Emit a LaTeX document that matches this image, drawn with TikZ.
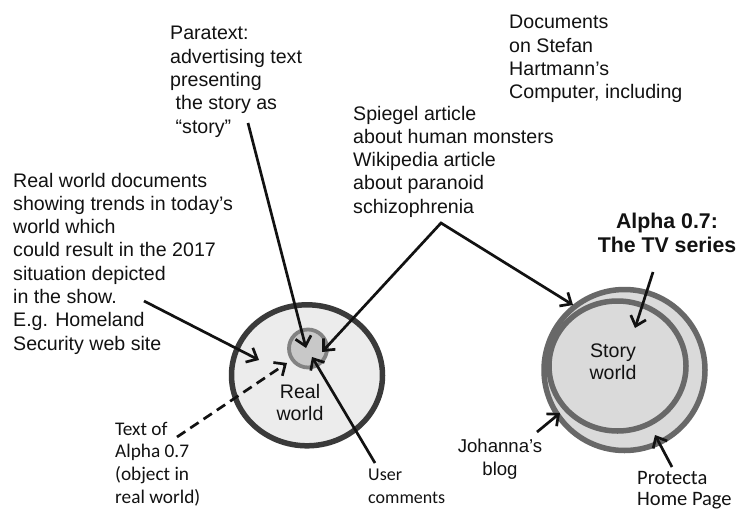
\documentclass[tikz,border=0pt]{standalone}
\usepackage{fontspec}
\setmainfont{Liberation Sans}
\newfontfamily\calfont{Carlito}
\usetikzlibrary{arrows.meta,shapes.geometric}
\definecolor{txtc}{RGB}{18,18,18}
\definecolor{rwfill}{RGB}{236,236,236}
\definecolor{rwline}{RGB}{58,58,58}
\definecolor{smfill}{RGB}{200,200,200}
\definecolor{smline}{RGB}{130,130,130}
\definecolor{swfill}{RGB}{218,218,218}
\definecolor{swline}{RGB}{104,104,104}
\newcommand\mlL[1]{\begin{tabular}[t]{@{}l@{}}#1\end{tabular}}
\newcommand\mlC[1]{\begin{tabular}[t]{@{}c@{}}#1\end{tabular}}
\newcommand\fsA{\fontsize{19.6}{23.3}\selectfont}
\begin{document}
\begin{tikzpicture}[x=1pt,y=-1pt,
  lbl/.style={anchor=base west,inner sep=0,text=txtc},
  clbl/.style={anchor=base,inner sep=0,text=txtc},
  arr/.style={draw=txtc,line width=2.7pt,-{Straight Barb[length=9pt,width=16pt]}},
  darr/.style={arr,dash pattern=on 10pt off 6pt},
  darr2/.style={draw=txtc,line width=2.7pt,{Straight Barb[length=9pt,width=16pt]}-{Straight Barb[length=9pt,width=16pt]}},
  blob/.style={ellipse,inner sep=0,outer sep=0}]
\useasboundingbox (0,0) rectangle (741,511);
\fill[white] (0,0) rectangle (741,511);

% circles
\node[blob,draw=rwline,fill=rwfill,line width=5.5pt,minimum width=151pt,minimum height=141pt] (rw) at (307,375.3) {};
\node[blob,draw=smline,fill=smfill,line width=3.8pt,minimum width=38pt,minimum height=38pt] (sm) at (308,348.5) {};
\node[blob,draw=swline,fill=swfill,line width=5.5pt,minimum width=161pt,minimum height=161pt] (swo) at (624.5,370) {};
\node[blob,draw=swline,fill=swfill,line width=5.5pt,minimum width=137pt,minimum height=130pt] (swi) at (617.5,366) {};

% texts
\node[lbl,font=\fsA] (para) at (170,40) {\mlL{Paratext:\\advertising text\\presenting\\\hspace*{5.5pt}the story as\\\hspace*{5.5pt}“story”}};
\node[lbl,font=\fsA] (docs) at (509,29) {\mlL{Documents\\on Stefan\\Hartmann’s\\Computer, including}};
\node[lbl,font=\fsA] (spiegel) at (353,120) {\mlL{Spiegel article\\about human monsters\\Wikipedia article\\about paranoid\\schizophrenia}};
\node[lbl,font=\fsA] (realdocs) at (13,187) {\mlL{Real world documents\\showing trends in today’s\\world which\\could result in the 2017\\situation depicted\\in the show.\\E.g. Homeland\\Security web site}};
\node[clbl,font=\fontsize{21.3}{24}\selectfont\bfseries] (alpha) at (667,228) {\mlC{Alpha 0.7:\\The TV series}};
\node[clbl,font=\fontsize{19.6}{22.3}\selectfont] (rwt) at (300,398) {\mlC{Real\\world}};
\node[clbl,font=\fontsize{19.6}{22}\selectfont] (swt) at (613,357) {\mlC{Story\\world}};
\node[lbl,font=\calfont\fontsize{19.3}{22.7}\selectfont] (textof) at (115,435) {\mlL{Text of\\Alpha 0.7\\(object in\\real world)}};
\node[lbl,font=\calfont\fontsize{18}{23}\selectfont] (user) at (368,480) {\mlL{User\\comments}};
\node[clbl,font=\fontsize{18.6}{23}\selectfont] (joh) at (500,452) {\mlC{Johanna’s\\blog}};
\node[lbl,font=\calfont\fontsize{20.5}{21.5}\selectfont] (prot) at (637,484) {\mlL{Protecta\\Home Page}};

% connector end points
\coordinate (paraT) at (248,123);
\coordinate (paraH) at (306,348);
\coordinate (spL) at (322,352);
\coordinate (spA) at (441,223);
\coordinate (spR) at (573,305);
\coordinate (rdT) at (144,301);
\coordinate (rdH) at (259,360);
\coordinate (toT) at (177,437);
\coordinate (toH) at (287,363);
\coordinate (ucT) at (375,463);
\coordinate (ucH) at (312,357);
\coordinate (alT) at (653,272);
\coordinate (alH) at (635,328);
\coordinate (joT) at (537,432);
\coordinate (joH) at (560,413);
\coordinate (prT) at (672,467);
\coordinate (prH) at (655,435);

% connectors
\draw[arr] (paraT) -- (paraH);
\draw[darr2] (spL) -- (spA) -- (spR);
\draw[arr] (rdT) -- (rdH);
\draw[darr] (toT) -- (toH);
\draw[arr] (ucT) -- (ucH);
\draw[arr] (alT) -- (alH);
\draw[arr] (joT) -- (joH);
\draw[arr] (prT) -- (prH);
\end{tikzpicture}
\end{document}
